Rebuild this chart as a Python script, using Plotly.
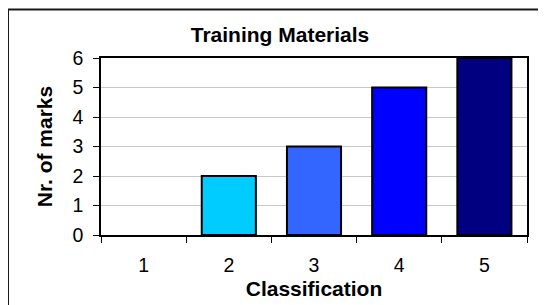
import plotly.graph_objects as go

categories = ["1", "2", "3", "4", "5"]
values = [0, 2, 3, 5, 6]
bar_colors = ["#00CCFF", "#00CCFF", "#3366FF", "#0000FF", "#000080"]
y_ticks = [0, 1, 2, 3, 4, 5, 6]

FONT = "Arial, 'Liberation Sans', sans-serif"
W, H = 546, 305
OFF = 8  # page body margin offset

# target pixel positions (reference coordinates)
PL, PR, PT, PB = 101, 527, 58, 235

fig = go.Figure(
    go.Bar(
        x=categories,
        y=values,
        marker=dict(
            color=bar_colors,
            line=dict(color="#000000", width=[0 if v == 0 else 2 for v in values]),
        ),
    )
)

fig.update_layout(
    width=W,
    height=H,
    margin=dict(l=PL - OFF, r=W - (PR - OFF), t=PT - OFF, b=H - (PB - OFF)),
    paper_bgcolor="#ffffff",
    plot_bgcolor="#ffffff",
    bargap=0.365,
    showlegend=False,
    font=dict(family=FONT, color="#000000"),
    title=dict(
        text="<b>Training Materials</b>",
        font=dict(family=FONT, size=21, color="#000000"),
        x=(280 - OFF) / W,
        xref="container",
        xanchor="center",
        y=1 - (35 - OFF) / H,
        yref="container",
        yanchor="middle",
    ),
    xaxis=dict(
        type="category",
        tickson="boundaries",
        ticks="outside",
        ticklen=6,
        tickcolor="#000000",
        tickfont=dict(size=19.5, family=FONT),
        ticklabelstandoff=12,
        showline=True,
        linecolor="#000000",
        linewidth=1.5,
        mirror=True,
        showgrid=False,
        title=dict(text="<b>Classification</b>", font=dict(size=21, family=FONT), standoff=6),
    ),
    yaxis=dict(
        range=[0, 6],
        tickvals=y_ticks,
        ticks="outside",
        ticklen=6,
        tickcolor="#000000",
        tickfont=dict(size=19.5, family=FONT),
        ticklabelstandoff=6,
        showline=True,
        linecolor="#000000",
        linewidth=1.5,
        mirror=True,
        showgrid=True,
        gridcolor="#c8c8c8",
        gridwidth=1,
        zeroline=False,
        title=dict(text="<b>Nr. of marks</b>", font=dict(size=21, family=FONT), standoff=14),
    ),
    shapes=[
        dict(
            type="rect",
            xref="paper",
            yref="paper",
            x0=(8 - PL) / (PR - PL),
            x1=1.2,
            y0=-0.6,
            y1=(PB - 9.5) / (PB - PT),
            line=dict(color="#1a1a1a", width=2),
            fillcolor="rgba(0,0,0,0)",
            layer="above",
        )
    ],
)

fig.write_html("out.html")
